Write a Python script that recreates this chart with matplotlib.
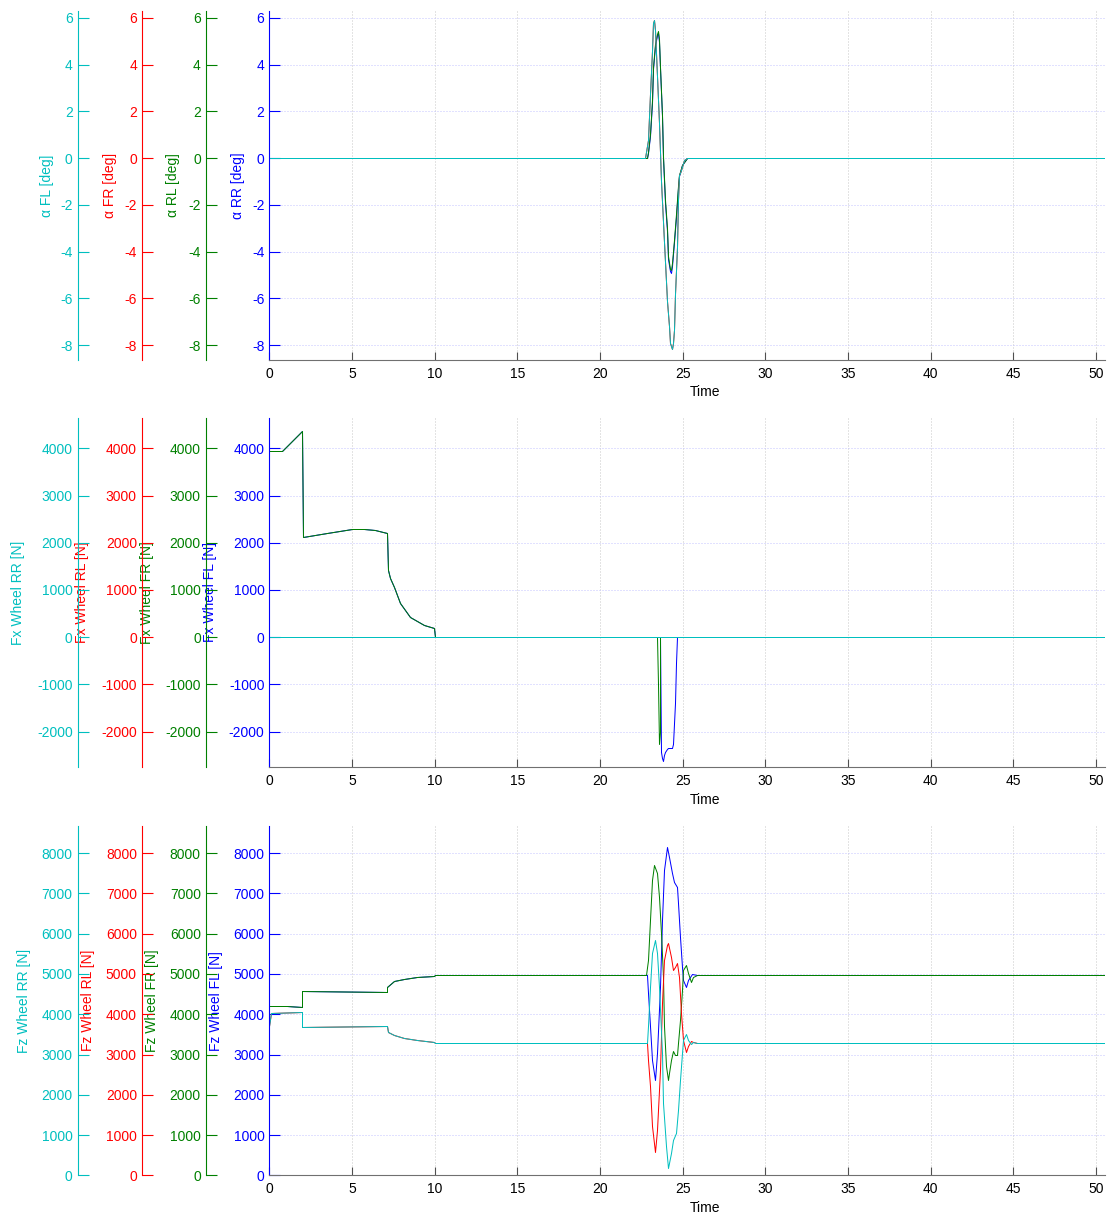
import matplotlib
matplotlib.use('Agg')
import matplotlib.pyplot as plt
from matplotlib.ticker import MultipleLocator

plt.rcParams['font.family'] = ['Liberation Sans', 'DejaVu Sans']
plt.rcParams['font.size'] = 10
plt.rcParams['axes.unicode_minus'] = False

T_END = 50.55

## slip angles [deg]
t_alpha_front = [0, 22.75, 22.93, 23.04, 23.14, 23.22, 23.28, 23.34, 23.44, 23.55, 23.70, 23.85, 24.04,
                 24.15, 24.25, 24.35, 24.42, 24.49, 24.57, 24.65, 24.73, 24.79, 24.85, 24.95, 25.10, 25.25, T_END]
alpha_fl = [0, 0, 0.76, 2.75, 4.6, 5.77, 5.91, 5.5, 3.5, 1.5, -1.0, -3.6, -6.1,
            -7.2, -7.9, -8.16, -7.9, -7.36, -5.8, -3.8, -1.8, -0.73, -0.65, -0.4, -0.1, 0, 0]
alpha_fr = [0, 0, 0.76, 2.75, 4.6, 5.77, 5.91, 5.5, 3.5, 1.5, -1.0, -3.6, -6.1,
            -7.2, -7.9, -8.16, -7.9, -7.36, -5.8, -3.8, -1.8, -0.73, -0.65, -0.4, -0.1, 0, 0]
t_alpha_rear = [0, 22.83, 22.93, 23.04, 23.14, 23.24, 23.34, 23.44, 23.52, 23.58, 23.64, 23.74, 23.84,
                23.94, 24.04, 24.14, 24.24, 24.30, 24.38, 24.49, 24.61, 24.71, 24.77, 24.95, 25.25, T_END]
alpha_rl = [0, 0, 0.25, 1.04, 2.47, 3.89, 4.88, 5.32, 5.42, 5.1, 3.9, 1.86, 0.1,
            -1.8, -3.0, -4.2, -4.75, -4.8, -4.5, -3.5, -2.4, -1.2, -0.74, -0.3, 0, 0]
alpha_rr = [0, 0, 0.2, 0.95, 2.35, 3.8, 4.8, 5.25, 5.35, 4.95, 3.85, 1.8, 0.0,
            -1.9, -3.1, -4.3, -4.85, -4.9, -4.6, -3.6, -2.5, -1.3, -0.75, -0.3, 0, 0]

## longitudinal wheel forces [N]
t_fx_fr = [0, 0.77, 1.97, 2.01, 3.49, 5.0, 5.7, 6.41, 7.11, 7.17, 7.32, 7.52, 7.92, 8.52, 9.33, 9.98, 10.0,
           23.46, 23.52, 23.58, 23.62, 23.64, T_END]
fx_fr = [3942, 3942, 4366, 2115, 2206, 2291, 2298, 2277, 2213, 1423, 1250, 1069, 718, 434, 258, 188, 0,
         0, -1000, -2250, -2000, 0, 0]
t_fx_fl = [0, 0.77, 1.97, 2.01, 3.49, 5.0, 5.7, 6.41, 7.11, 7.17, 7.32, 7.52, 7.92, 8.52, 9.33, 9.98, 10.0,
           23.66, 23.68, 23.75, 23.80, 23.87, 23.94, 24.05, 24.14, 24.39, 24.45, 24.55, 24.63, 24.69, T_END]
fx_fl = [3942, 3942, 4366, 2115, 2206, 2291, 2298, 2277, 2213, 1423, 1250, 1069, 718, 434, 258, 188, 0,
         0, -2420, -2560, -2615, -2500, -2424, -2360, -2340, -2340, -2250, -1400, -550, 0, 0]
t_fx_rear = [0, T_END]
fx_rl = [0, 0]
fx_rr = [0, 0]

## vertical wheel forces [N]
t_fz_fr = [0, 1.07, 1.98, 2.00, 7.11, 7.12, 7.52, 8.12, 8.93, 9.98, 10.04, 22.79, 22.93, 23.04, 23.14,
           23.30, 23.44, 23.58, 23.70, 23.80, 23.90, 24.00, 24.10, 24.20, 24.30, 24.45, 24.55, 24.65, 24.75,
           24.85, 24.95, 25.05, 25.21, 25.35, 25.49, 25.65, 25.86, 26.06, T_END]
fz_fr = [4211, 4211, 4178, 4565, 4548, 4689, 4818, 4879, 4921, 4954, 4970, 4970, 5350, 6341, 7331,
         7703, 7496, 6918, 6010, 4937, 3699, 2708, 2378, 2543, 2873, 3080, 2997, 2997, 3286,
         3864, 4607, 5102, 5226, 5020, 4813, 4937, 4978, 4970, 4970]
t_fz_fl = [0, 1.07, 1.98, 2.00, 7.11, 7.12, 7.52, 8.12, 8.93, 9.98, 10.04, 22.83, 22.93, 23.04, 23.18,
           23.34, 23.48, 23.64, 23.78, 23.90, 24.04, 24.18, 24.35, 24.49, 24.65, 24.75, 24.85, 24.95,
           25.05, 25.21, 25.35, 25.55, 25.86, T_END]
fz_fl = [4211, 4211, 4178, 4565, 4548, 4689, 4818, 4879, 4921, 4954, 4970, 4970, 4524, 3699, 2873,
         2378, 3038, 4689, 6341, 7579, 8157, 7909, 7496, 7290, 7166, 6753, 5928, 5185,
         4854, 4689, 4854, 4995, 4970, 4970]
t_fz_rr = [0, 0.10, 1.98, 2.00, 7.11, 7.17, 7.52, 8.12, 8.93, 9.98, 10.04, 22.83, 22.93, 23.04, 23.18,
           23.34, 23.48, 23.60, 23.74, 23.84, 23.98, 24.14, 24.28, 24.45, 24.61, 24.75, 24.85, 24.95,
           25.05, 25.21, 25.35, 25.49, 25.65, 25.86, T_END]
fz_rr = [3698, 4029, 4062, 3682, 3699, 3550, 3492, 3410, 3352, 3302, 3286, 3286, 3699, 4689, 5515,
         5845, 5515, 4689, 3038, 1800, 726, 190, 561, 892, 1057, 1635, 2378, 3038,
         3368, 3509, 3368, 3269, 3302, 3286, 3286]
t_fz_rl = [0, 0.10, 1.98, 2.00, 7.11, 7.17, 7.52, 8.12, 8.93, 9.98, 10.04, 22.83, 22.93, 23.04, 23.18,
           23.34, 23.48, 23.64, 23.78, 23.90, 24.04, 24.14, 24.28, 24.41, 24.55, 24.65, 24.77, 24.89,
           25.05, 25.21, 25.35, 25.49, 25.65, 25.86, T_END]
fz_rl = [3698, 4029, 4062, 3682, 3699, 3550, 3492, 3410, 3352, 3302, 3286, 3286, 2873, 2213, 1222,
         578, 1139, 2625, 4277, 5350, 5720, 5763, 5432, 5102, 5185, 5267, 4937, 4029,
         3368, 3063, 3203, 3327, 3311, 3286, 3286]

# MATLAB-ish colours
C_BLUE = (0, 0, 1)
C_GREEN = (0, 0.5, 0)
C_RED = (1, 0, 0)
C_CYAN = (0, 0.75, 0.75)

# offsets of the extra y axes (axes coords) : green, red, cyan
spine_pos = [-0.0761, -0.1526, -0.2294]

# panels: [(t, y, colour, label)] in order blue(main), green, red, cyan
panels = [
    dict(rect=[0.2415, 0.7044, 0.7495, 0.2865], ylim=(-8.64, 6.29), step=2,
         series=[(t_alpha_rear, alpha_rr, C_BLUE, 'α RR [deg]'),
                 (t_alpha_rear, alpha_rl, C_GREEN, 'α RL [deg]'),
                 (t_alpha_front, alpha_fr, C_RED, 'α FR [deg]'),
                 (t_alpha_front, alpha_fl, C_CYAN, 'α FL [deg]')],
         labx=[-0.0374, -0.1152, -0.1906, -0.2663], timey=-0.092),
    dict(rect=[0.2415, 0.3705, 0.7495, 0.2861], ylim=(-2741, 4635), step=1000,
         series=[(t_fx_fl, fx_fl, C_BLUE, 'Fx Wheel FL [N]'),
                 (t_fx_fr, fx_fr, C_GREEN, 'Fx Wheel FR [N]'),
                 (t_fx_rear, fx_rl, C_RED, 'Fx Wheel RL [N]'),
                 (t_fx_rear, fx_rr, C_CYAN, 'Fx Wheel RR [N]')],
         labx=[-0.0709, -0.1463, -0.2240, -0.3006], timey=-0.096),
    dict(rect=[0.2415, 0.0349, 0.7495, 0.2869], ylim=(0, 8670), step=1000,
         series=[(t_fz_fl, fz_fl, C_BLUE, 'Fz Wheel FL [N]'),
                 (t_fz_fr, fz_fr, C_GREEN, 'Fz Wheel FR [N]'),
                 (t_fz_rl, fz_rl, C_RED, 'Fz Wheel RL [N]'),
                 (t_fz_rr, fz_rr, C_CYAN, 'Fz Wheel RR [N]')],
         labx=[-0.0638, -0.1403, -0.2168, -0.2934], timey=-0.093),
]

fig = plt.figure(figsize=(11.15, 12.18), dpi=100)

for p in panels:
    ax = fig.add_axes(p['rect'])
    axs = [ax]
    for pos in spine_pos:
        tw = ax.twinx()
        tw.spines['left'].set_position(('axes', pos))
        tw.yaxis.tick_left()
        tw.yaxis.set_label_position('left')
        axs.append(tw)

    # all curves go into the main axes (same y limits everywhere), so equal values
    # land on the same pixel row and the last one drawn stays on top
    for t, y, c, lab in p['series']:
        ax.plot(t, y, color=c, lw=0.72, snap=True)

    for i, (a, (t, y, c, lab)) in enumerate(zip(axs, p['series'])):
        a.set_xlim(0, T_END)
        a.set_ylim(*p['ylim'])
        a.yaxis.set_major_locator(MultipleLocator(p['step']))
        for s in ['top', 'right']:
            a.spines[s].set_visible(False)
        if i > 0:
            a.spines['bottom'].set_visible(False)
        a.spines['left'].set_visible(True)
        a.spines['left'].set_color(c)
        a.spines['left'].set_linewidth(0.8)
        a.tick_params(axis='y', colors=c, direction='in', length=8, width=0.8, pad=3.5, labelsize=10)
        a.set_ylabel(lab, color=c, fontsize=10)
        a.yaxis.label.set_va('center')
        a.yaxis.set_label_coords(p['labx'][i], 0.5)

    ax.spines['bottom'].set_color('#707070')
    ax.spines['bottom'].set_linewidth(0.8)
    ax.xaxis.set_major_locator(MultipleLocator(5))
    ax.tick_params(axis='x', colors='#505050', labelcolor='black', direction='in', length=6,
                   width=0.8, pad=5, labelsize=10)
    # sparse 1px dots like MATLAB's ':' grid
    ax.grid(axis='y', color='#c4c4ff', linestyle=(0, (1, 2)), linewidth=0.72)
    ax.grid(axis='x', color='#c8c8c8', linestyle=(0, (1, 2)), linewidth=0.72)
    ax.set_xlabel('Time', fontsize=10)
    ax.xaxis.label.set_va('center')
    ax.xaxis.set_label_coords(0.521, p['timey'])

fig.savefig('out.png', dpi=100)
